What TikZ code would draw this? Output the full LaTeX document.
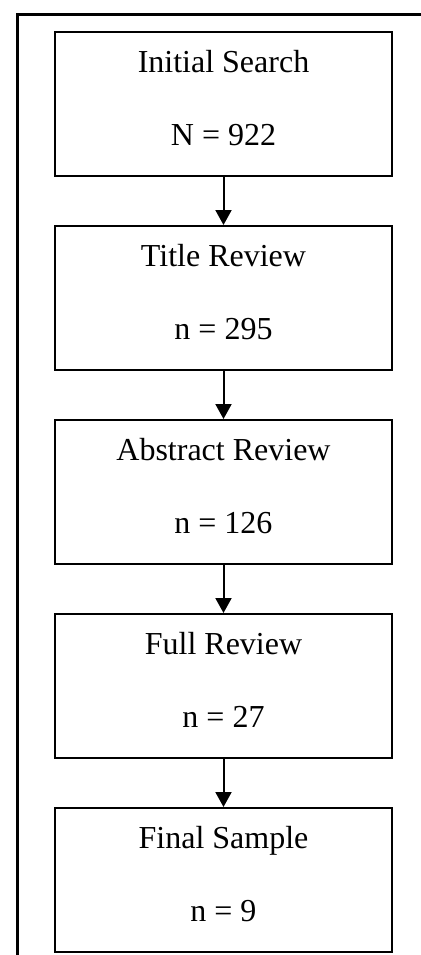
\documentclass[tikz,border=0pt]{standalone}
\usepackage{fontspec}
\setmainfont{Liberation Serif}
\usetikzlibrary{arrows.meta, positioning}
\tikzset{
  stage/.style={rectangle, draw=black, line width=1pt, minimum width=168.5pt, minimum height=72pt, align=center, font=\fontsize{16}{36.5}\selectfont, text depth=6.5pt, inner sep=0pt},
  arr/.style={-{Triangle[length=7.5pt, width=8pt]}, line width=1pt},
  frame/.style={line width=1.5pt},
}
\begin{document}
\begin{tikzpicture}[node distance=24pt]
\useasboundingbox (0,0) rectangle (210.5pt,-477.5pt);
\draw[frame] (8.75pt,-480pt) -- (8.75pt,-7.25pt) -- (213pt,-7.25pt);

\node[stage] (search) at (111.75pt,-52pt) {Initial Search\\N = 922};
\node[stage, below=of search] (title) {Title Review\\n = 295};
\node[stage, below=of title] (abstract) {Abstract Review\\n = 126};
\node[stage, below=of abstract] (full) {Full Review\\n = 27};
\node[stage, below=of full] (final) {Final Sample\\n = 9};
\draw[arr] (search)--(title); \draw[arr] (title)--(abstract); \draw[arr] (abstract)--(full); \draw[arr] (full)--(final);
\end{tikzpicture}
\end{document}
